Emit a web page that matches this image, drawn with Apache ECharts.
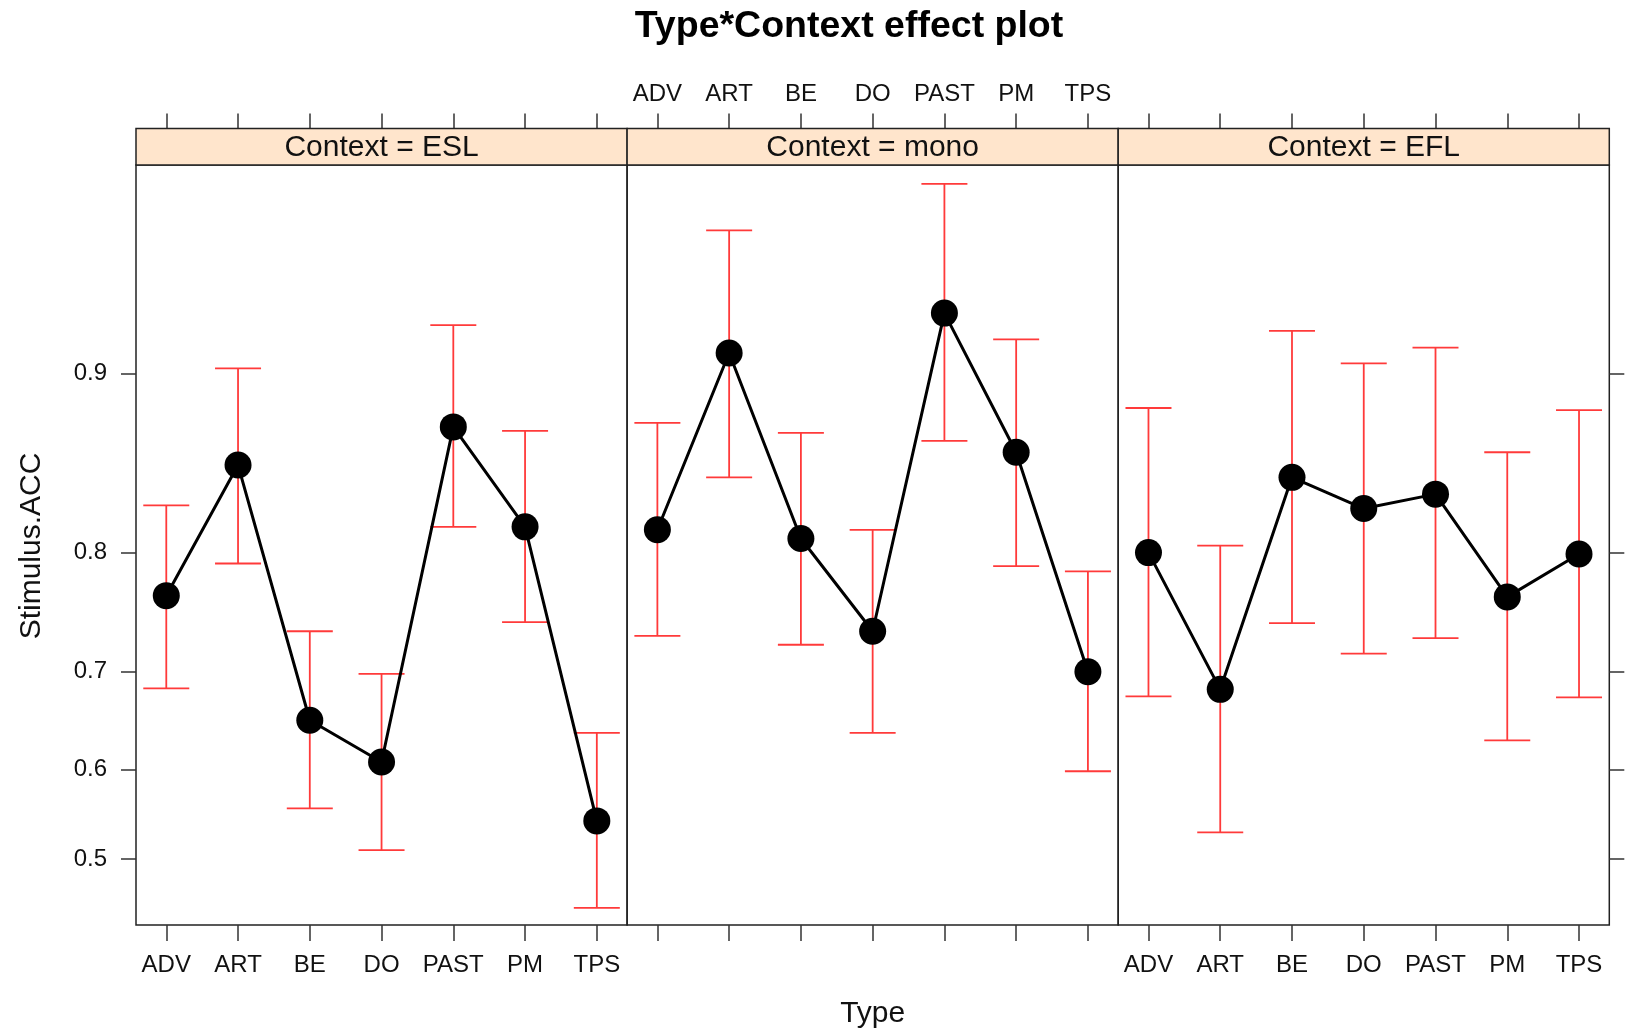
<!DOCTYPE html>
<html>
<head>
<meta charset="utf-8">
<script src="https://cdn.jsdelivr.net/npm/echarts@6/dist/echarts.min.js"></script>
<style>
html,body{margin:0;padding:0;background:#fff;}
#chart{width:1626px;height:1035px;}
</style>
</head>
<body>
<div id="chart"></div>
<script>
// ---- data ----
const types = ['ADV', 'ART', 'BE', 'DO', 'PAST', 'PM', 'TPS'];
const contexts = ['ESL', 'mono', 'EFL'];

const eslFit   = [0.767, 0.856, 0.652, 0.608, 0.876, 0.818, 0.543];
const eslLower = [0.684, 0.792, 0.557, 0.510, 0.818, 0.745, 0.445];
const eslUpper = [0.832, 0.902, 0.737, 0.698, 0.918, 0.874, 0.639];

const monoFit   = [0.816, 0.908, 0.810, 0.737, 0.922, 0.863, 0.700];
const monoLower = [0.733, 0.849, 0.725, 0.639, 0.869, 0.790, 0.598];
const monoUpper = [0.878, 0.945, 0.873, 0.816, 0.955, 0.913, 0.786];

const eflFit   = [0.800, 0.683, 0.849, 0.830, 0.839, 0.766, 0.799];
const eflLower = [0.676, 0.530, 0.744, 0.717, 0.731, 0.631, 0.675];
const eflUpper = [0.885, 0.805, 0.916, 0.904, 0.910, 0.863, 0.884];

const yTicks = [0.5, 0.6, 0.7, 0.8, 0.9];
const title = 'Type*Context effect plot';
const xTitle = 'Type';
const yTitle = 'Stimulus.ACC';

// ---- scale helpers (logit scale as in the effects plot) ----
const logit = p => Math.log(p / (1 - p));
const invLogit = v => 1 / (1 + Math.exp(-v));

const fits = [eslFit, monoFit, eflFit];
const lowers = [eslLower, monoLower, eflLower];
const uppers = [eslUpper, monoUpper, eflUpper];

// ---- layout ----
const FONT = '"Liberation Sans", Arial, Helvetica, sans-serif';
const panelLeft = 136, panelW = 491.1, panelTop = 165, panelH = 760, stripH = 36.5;
const yMin = -0.2986, yMax = 3.140;
const xMin = -0.422, xMax = 6.422;
const axisCol = '#333';
const errCol = '#ff3a3a';

const grids = [], xAxes = [], yAxes = [], series = [], graphics = [];
const xIdx = types.map((_, i) => i);
const yTickVals = yTicks.map(logit);

contexts.forEach((ctx, k) => {
  const left = panelLeft + k * panelW;
  grids.push({
    left: left, top: panelTop, width: panelW, height: panelH,
    show: true, borderColor: '#222', borderWidth: 1.5, backgroundColor: 'transparent',
    outerBoundsMode: 'none', containLabel: false
  });
  // bottom x axis
  xAxes.push({
    type: 'value', gridIndex: k, position: 'bottom', min: xMin, max: xMax,
    axisLine: { show: false, onZero: false },
    splitLine: { show: false },
    axisTick: { show: true, customValues: xIdx, length: 16, lineStyle: { color: axisCol, width: 1.5 } },
    axisLabel: {
      show: k !== 1, customValues: xIdx, margin: 28,
      formatter: v => types[Math.round(v)],
      fontFamily: FONT, fontSize: 24, color: '#111'
    }
  });
  // top x axis (above strip)
  xAxes.push({
    type: 'value', gridIndex: k, position: 'top', offset: stripH, min: xMin, max: xMax,
    axisLine: { show: false, onZero: false },
    splitLine: { show: false },
    axisTick: { show: true, customValues: xIdx, length: 15, lineStyle: { color: axisCol, width: 1.5 } },
    axisLabel: {
      show: k === 1, customValues: xIdx, margin: 22,
      formatter: v => types[Math.round(v)],
      fontFamily: FONT, fontSize: 24, color: '#111'
    }
  });
  yAxes.push({
    type: 'value', gridIndex: k, min: yMin, max: yMax,
    position: k === 2 ? 'right' : 'left',
    axisLine: { show: false, onZero: false },
    splitLine: { show: false },
    axisTick: { show: k !== 1, customValues: yTickVals, length: 15, lineStyle: { color: axisCol, width: 1.5 } },
    axisLabel: {
      show: k === 0, customValues: yTickVals, margin: 29,
      formatter: v => invLogit(v).toFixed(1),
      fontFamily: FONT, fontSize: 24, color: '#111'
    }
  });

  // error bars
  series.push({
    type: 'custom', name: ctx + ' CI', xAxisIndex: 2 * k, yAxisIndex: k, z: 2,
    data: types.map((t, i) => [i, logit(lowers[k][i]), logit(uppers[k][i])]),
    renderItem: function (params, api) {
      const x = api.value(0);
      const pLo = api.coord([x, api.value(1)]);
      const pHi = api.coord([x, api.value(2)]);
      const hw = 23;
      const st = { stroke: errCol, lineWidth: 1.8 };
      return {
        type: 'group', children: [
          { type: 'line', shape: { x1: pLo[0], y1: pLo[1], x2: pHi[0], y2: pHi[1] }, style: st },
          { type: 'line', shape: { x1: pLo[0] - hw, y1: pLo[1], x2: pLo[0] + hw, y2: pLo[1] }, style: st },
          { type: 'line', shape: { x1: pHi[0] - hw, y1: pHi[1], x2: pHi[0] + hw, y2: pHi[1] }, style: st }
        ]
      };
    },
    silent: true
  });
  // fitted line
  series.push({
    type: 'line', name: ctx, xAxisIndex: 2 * k, yAxisIndex: k, z: 3,
    data: types.map((t, i) => [i, logit(fits[k][i])]),
    symbol: 'circle', symbolSize: 27,
    itemStyle: { color: '#000' },
    lineStyle: { color: '#000', width: 3 },
    animation: false, silent: true
  });

  // strip
  graphics.push({
    type: 'rect', shape: { x: left, y: panelTop - stripH, width: panelW, height: stripH },
    style: { fill: '#FFE5CC', stroke: '#222', lineWidth: 1.5 }, z: 10
  });
  graphics.push({
    type: 'text', x: left + panelW / 2, y: panelTop - stripH / 2 + 1,
    style: { text: 'Context = ' + ctx, font: '30px ' + FONT, fill: '#111', align: 'center', verticalAlign: 'middle' },
    z: 11
  });
});

graphics.push({
  type: 'text', x: panelLeft + 1.5 * panelW, y: 1014,
  style: { text: xTitle, font: '30px ' + FONT, fill: '#111', align: 'center', verticalAlign: 'middle' }
});
graphics.push({
  type: 'text', x: 32, y: 546, rotation: Math.PI / 2,
  style: { text: yTitle, font: '30px ' + FONT, fill: '#111', align: 'center', verticalAlign: 'middle' }
});

const chart = echarts.init(document.getElementById('chart'), null, { renderer: 'canvas' });
chart.setOption({
  animation: false,
  backgroundColor: '#fff',
  title: {
    text: title, left: 844, top: 3, textAlign: 'center',
    textStyle: { fontFamily: FONT, fontSize: 37.5, fontWeight: 'bold', color: '#000' }
  },
  grid: grids,
  xAxis: xAxes,
  yAxis: yAxes,
  series: series,
  graphic: graphics
});
</script>
</body>
</html>
